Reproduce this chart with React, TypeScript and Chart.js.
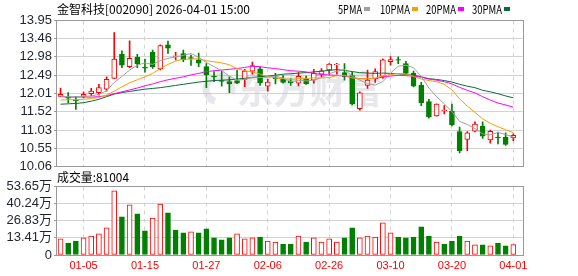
import React, { useEffect, useRef } from "react";
import { Chart, registerables } from "chart.js";

Chart.register(...registerables);

// ---------- data ----------
const dates = [
  "12-29", "12-30", "12-31", "01-05", "01-06", "01-07", "01-08", "01-09", "01-12", "01-13",
  "01-14", "01-15", "01-16", "01-19", "01-20", "01-21", "01-22", "01-23", "01-26", "01-27",
  "01-28", "01-29", "01-30", "02-02", "02-03", "02-04", "02-05", "02-06", "02-09", "02-10",
  "02-11", "02-12", "02-13", "02-24", "02-25", "02-26", "02-27", "03-02", "03-03", "03-04",
  "03-05", "03-06", "03-09", "03-10", "03-11", "03-12", "03-13", "03-16", "03-17", "03-18",
  "03-19", "03-20", "03-23", "03-24", "03-25", "03-26", "03-27", "03-30", "03-31", "04-01",
];

const opens = [
  11.93, 11.9, 11.83, 11.93, 12.0, 12.03, 12.12, 12.41, 13.05, 12.72,
  12.97, 12.7, 13.1, 12.66, 13.3, 12.99, 13.07, 12.96, 12.9, 12.72,
  12.47, 12.35, 12.32, 12.35, 12.38, 12.6, 12.66, 12.2, 12.42, 12.38,
  12.33, 12.28, 12.38, 12.36, 12.52, 12.63, 12.77, 12.56, 12.48, 11.6,
  12.22, 12.4, 12.45, 12.85, 12.91, 12.8, 12.55, 12.23, 11.79, 11.41,
  11.55, 11.53, 10.99, 10.78, 11.0, 11.14, 10.77, 10.84, 10.84, 10.82,
];
const highs = [
  12.15, 12.03, 11.93, 12.05, 12.14, 12.25, 12.45, 13.63, 13.14, 13.41,
  13.05, 12.92, 13.16, 13.3, 13.4, 13.1, 13.16, 13.03, 13.08, 12.8,
  12.59, 12.6, 12.45, 12.63, 12.65, 12.84, 12.71, 12.38, 12.54, 12.48,
  12.4, 12.56, 12.47, 12.65, 12.67, 12.8, 12.81, 12.8, 12.57, 12.05,
  12.63, 12.66, 12.93, 12.99, 12.98, 12.86, 12.6, 12.3, 11.85, 11.73,
  11.68, 11.72, 11.11, 10.99, 11.25, 11.25, 11.03, 10.98, 10.96, 10.93,
];
const lows = [
  11.92, 11.76, 11.58, 11.89, 11.95, 11.96, 12.07, 12.4, 12.69, 12.69,
  12.69, 12.57, 12.67, 12.63, 13.07, 12.9, 12.85, 12.75, 12.72, 12.16,
  12.32, 12.2, 12.03, 12.27, 12.19, 12.52, 12.22, 12.07, 12.26, 12.28,
  12.22, 12.21, 12.25, 12.28, 12.45, 12.5, 12.52, 12.36, 11.7, 11.56,
  12.14, 12.3, 12.41, 12.76, 12.8, 12.52, 12.18, 11.68, 11.35, 11.4,
  11.46, 11.14, 10.42, 10.48, 10.98, 10.81, 10.68, 10.66, 10.62, 10.75,
];
const closes = [
  11.98, 11.88, 11.81, 11.98, 12.07, 12.16, 12.38, 12.92, 12.76, 12.94,
  12.79, 12.68, 12.72, 13.28, 13.21, 13.01, 12.9, 12.94, 12.81, 12.5,
  12.45, 12.33, 12.26, 12.28, 12.6, 12.75, 12.29, 12.31, 12.4, 12.3,
  12.29, 12.46, 12.26, 12.54, 12.61, 12.79, 12.79, 12.45, 11.73, 12.02,
  12.36, 12.59, 12.9, 12.91, 12.89, 12.54, 12.2, 11.76, 11.38, 11.72,
  11.57, 11.17, 10.48, 10.96, 11.19, 10.87, 11.0, 10.82, 10.65, 10.89,
];
// volume in 万 (10k shares)
const volumes = [
  12.6, 9.4, 11.0, 13.4, 14.9, 16.5, 21.2, 50.3, 29.8, 39.3,
  32.2, 18.9, 29.0, 39.8, 33.0, 19.6, 17.3, 18.1, 17.3, 20.4,
  13.4, 11.8, 13.4, 16.5, 12.6, 13.4, 14.1, 11.0, 10.2, 8.6,
  8.6, 14.9, 10.2, 13.4, 10.2, 12.6, 10.2, 13.4, 21.2, 13.4,
  14.9, 14.1, 25.1, 17.3, 14.1, 13.4, 14.1, 22.0, 14.9, 10.2,
  8.6, 11.0, 14.9, 11.0, 7.9, 7.9, 7.1, 9.4, 7.1, 8.1,
];

const ma5 = [
  11.93, 11.92, 11.92, 11.93, 11.94, 11.98, 12.08, 12.3, 12.46, 12.63,
  12.76, 12.82, 12.78, 12.88, 12.94, 12.98, 13.02, 13.07, 12.97, 12.83,
  12.72, 12.61, 12.47, 12.36, 12.38, 12.44, 12.43, 12.44, 12.47, 12.41,
  12.32, 12.35, 12.34, 12.36, 12.43, 12.53, 12.6, 12.64, 12.47, 12.36,
  12.27, 12.23, 12.32, 12.55, 12.73, 12.76, 12.69, 12.46, 12.15, 11.92,
  11.73, 11.52, 11.26, 11.18, 11.07, 10.93, 10.9, 10.97, 10.91, 10.85,
];
const ma10 = [
  11.83, 11.84, 11.84, 11.85, 11.87, 11.9, 11.96, 12.07, 12.18, 12.29,
  12.37, 12.45, 12.54, 12.67, 12.78, 12.87, 12.92, 12.92, 12.93, 12.88,
  12.85, 12.82, 12.77, 12.67, 12.61, 12.58, 12.52, 12.46, 12.42, 12.4,
  12.38, 12.4, 12.4, 12.42, 12.42, 12.43, 12.48, 12.49, 12.42, 12.4,
  12.4, 12.41, 12.48, 12.51, 12.54, 12.52, 12.46, 12.39, 12.35, 12.32,
  12.25, 12.1, 11.86, 11.67, 11.5, 11.33, 11.21, 11.12, 11.04, 10.96,
];
const ma20 = [
  11.92, 11.91, 11.91, 11.91, 11.91, 11.92, 11.95, 12.0, 12.05, 12.1,
  12.15, 12.21, 12.26, 12.32, 12.37, 12.41, 12.45, 12.5, 12.54, 12.59,
  12.61, 12.63, 12.65, 12.67, 12.7, 12.73, 12.72, 12.69, 12.67, 12.64,
  12.61, 12.6, 12.58, 12.54, 12.51, 12.5, 12.49, 12.47, 12.43, 12.4,
  12.4, 12.41, 12.44, 12.47, 12.49, 12.48, 12.47, 12.44, 12.39, 12.36,
  12.32, 12.26, 12.17, 12.09, 12.02, 11.92, 11.83, 11.75, 11.7, 11.64,
];
const ma30 = [
  11.72, 11.73, 11.74, 11.76, 11.8, 11.85, 11.92, 11.99, 12.03, 12.06,
  12.09, 12.12, 12.14, 12.16, 12.19, 12.22, 12.25, 12.28, 12.31, 12.33,
  12.35, 12.36, 12.37, 12.39, 12.41, 12.43, 12.45, 12.47, 12.49, 12.52,
  12.53, 12.55, 12.56, 12.58, 12.6, 12.62, 12.64, 12.62, 12.59, 12.56,
  12.55, 12.54, 12.55, 12.54, 12.53, 12.51, 12.49, 12.45, 12.4, 12.38,
  12.35, 12.31, 12.25, 12.2, 12.16, 12.09, 12.05, 12.0, 11.94, 11.89,
];

const priceTickLabels = ["10.06", "10.55", "11.03", "11.52", "12.01", "12.49", "12.98", "13.46", "13.95"];
const volumeTickValues = [0, 13.41, 26.83, 40.24, 53.65];
const volumeTickLabels = ["0", "13.41万", "26.83万", "40.24万", "53.65万"];
const dateTickLabels = ["01-05", "01-15", "01-27", "02-06", "02-26", "03-10", "03-20", "04-01"];
const maNames = ["5PMA", "10PMA", "20PMA", "30PMA"];
const titleText = "金智科技[002090] 2026-04-01 15:00";
const volumeTitle = "成交量:81004";
const watermark = "东方财富";

// ---------- styles ----------
const RED = "#ff0000";
const GREEN = "#008000";
const MA_COLORS = ["#a0a0a0", "#f5a000", "#ff00ff", "#0b6b37"];
const GRID = "#d2d2d2";
const FRAME = "#999999";
const LABEL = "#1e2233";
const NUM_FONT = "'Liberation Sans', 'Noto Sans CJK SC', sans-serif";
const CJK_FONT = "'Noto Sans CJK SC', sans-serif";

export default function App() {
  const priceRef = useRef<HTMLCanvasElement>(null);
  const volRef = useRef<HTMLCanvasElement>(null);

  useEffect(() => {
    const W = 578;
    const H = 276;
    const plotRight = 522.7;
    const xMin = -0.46;
    const xMax = 60.22;
    const tickIdx = dateTickLabels.map((d) => dates.indexOf(d));
    const priceTickValues = priceTickLabels.map((s) => parseFloat(s));
    const up = closes.map((c, i) => c >= opens[i]);
    const volUp = closes.map((c, i) => (i === 0 ? c >= opens[i] : c >= closes[i - 1]));

    const frame = (chart: any) => {
      const { ctx, chartArea: a } = chart;
      ctx.save();
      ctx.strokeStyle = FRAME;
      ctx.lineWidth = 1;
      const l = Math.round(a.left) - 0.5;
      const t = Math.floor(a.top) + 0.5;
      const r = Math.round(a.right) + 0.5;
      const b = Math.floor(a.bottom) + 0.5;
      ctx.strokeRect(l, t, r - l, b - t);
      ctx.restore();
    };

    const pricePlugin = {
      id: "priceDeco",
      beforeDatasetsDraw(chart: any) {
        const ctx = chart.ctx;
        ctx.save();
        ctx.fillStyle = "rgba(185,185,200,0.35)";
        ctx.strokeStyle = "rgba(185,185,200,0.35)";
        ctx.font = `bold 38px ${CJK_FONT}`;
        ctx.textBaseline = "middle";
        ctx.textAlign = "left";
        ctx.fillText(watermark, 237, 89, 145);
        ctx.lineWidth = 7;
        ctx.beginPath();
        ctx.arc(219, 89, 13, Math.PI * 0.6, Math.PI * 2.1);
        ctx.stroke();
        ctx.restore();
      },
      afterDraw(chart: any) {
        frame(chart);
        const ctx = chart.ctx;
        ctx.save();
        ctx.fillStyle = "#000";
        ctx.textBaseline = "middle";
        ctx.textAlign = "left";
        ctx.font = `12px ${CJK_FONT}`;
        ctx.fillText(titleText, 57, 9.5, 196);
        const lx = [338, 380, 426, 472];
        maNames.forEach((n, i) => {
          const w = n.length * 6;
          ctx.fillStyle = "#000";
          ctx.fillText(n, lx[i], 9.5, w);
          ctx.fillStyle = MA_COLORS[i];
          ctx.fillRect(lx[i] + w + 2, 7, 6, 4);
        });
        ctx.restore();
      },
    };

    const volPlugin = {
      id: "volDeco",
      afterDraw(chart: any) {
        frame(chart);
        const ctx = chart.ctx;
        ctx.save();
        ctx.fillStyle = "#000";
        ctx.textBaseline = "middle";
        ctx.textAlign = "left";
        ctx.font = `12px ${CJK_FONT}`;
        ctx.fillText(volumeTitle, 57, 177.5, 72);
        ctx.restore();
      },
    };

    const xScale = (showLabels: boolean, height: number) => ({
      type: "linear" as const,
      min: xMin,
      max: xMax,
      offset: false,
      afterBuildTicks: (s: any) => {
        s.ticks = tickIdx.map((v) => ({ value: v }));
      },
      afterFit: (s: any) => {
        s.height = height;
      },
      ticks: {
        display: showLabels,
        autoSkip: false,
        maxRotation: 0,
        padding: 4,
        color: RED,
        font: { family: NUM_FONT, size: 11 },
        callback: (_v: any, idx: number) => dateTickLabels[idx],
      },
      grid: { color: GRID, drawTicks: false, offset: false, lineWidth: 1 },
      border: { display: false, dash: [4, 4] },
    });

    const yCommon = {
      position: "left" as const,
      afterFit: (s: any) => {
        s.width = 57;
      },
      grid: { color: GRID, tickLength: 3, tickColor: FRAME, lineWidth: 1 },
      border: { display: false },
    };

    const priceChart = new Chart(priceRef.current as HTMLCanvasElement, {
      type: "bar",
      data: {
        datasets: [
          {
            type: "bar",
            data: lows.map((l, i) => ({ x: i, y: [l, highs[i]] })) as any,
            backgroundColor: up.map((u) => (u ? RED : GREEN)),
            borderWidth: 0,
            barThickness: 1,
            grouped: false,
            order: 3,
          },
          {
            type: "bar",
            data: opens.map((o, i) => ({ x: i, y: [o, closes[i]] })) as any,
            backgroundColor: up.map((u) => (u ? "#ffffff" : GREEN)),
            borderColor: up.map((u) => (u ? RED : GREEN)),
            borderWidth: 1,
            borderSkipped: false,
            barThickness: 5,
            grouped: false,
            order: 2,
          },
          ...[ma5, ma10, ma20, ma30].map((arr, k) => ({
            type: "line" as const,
            data: arr.map((v, i) => ({ x: i, y: v })),
            borderColor: MA_COLORS[k],
            borderWidth: 1,
            pointRadius: 0,
            tension: 0,
            fill: false,
            order: 1,
          })),
        ] as any,
      },
      options: {
        responsive: false,
        devicePixelRatio: 1,
        animation: false,
        events: [],
        layout: { padding: { left: 0, right: W - plotRight, top: 20.5, bottom: H - 166.5 } },
        plugins: { legend: { display: false }, tooltip: { enabled: false }, title: { display: false } },
        scales: {
          x: xScale(false, 0) as any,
          y: {
            ...yCommon,
            type: "linear",
            min: 10.06,
            max: 13.95,
            afterBuildTicks: (s: any) => {
              s.ticks = priceTickValues.map((v) => ({ value: v }));
            },
            ticks: {
              autoSkip: false,
              padding: 2,
              color: LABEL,
              font: { family: NUM_FONT, size: 13 },
              callback: (_v: any, idx: number) => priceTickLabels[idx],
            },
          } as any,
        },
      },
      plugins: [pricePlugin],
    });

    const volChart = new Chart(volRef.current as HTMLCanvasElement, {
      type: "bar",
      data: {
        datasets: [
          {
            type: "bar",
            data: volumes.map((v, i) => ({ x: i, y: v })),
            backgroundColor: volUp.map((u) => (u ? "#ffffff" : GREEN)),
            borderColor: volUp.map((u) => (u ? RED : GREEN)),
            borderWidth: 1,
            borderSkipped: false,
            barThickness: 5,
            grouped: false,
          },
        ] as any,
      },
      options: {
        responsive: false,
        devicePixelRatio: 1,
        animation: false,
        events: [],
        layout: { padding: { left: 0, right: W - plotRight, top: 186.5, bottom: 0 } },
        plugins: { legend: { display: false }, tooltip: { enabled: false }, title: { display: false } },
        scales: {
          x: xScale(true, H - 255) as any,
          y: {
            ...yCommon,
            type: "linear",
            min: 0,
            max: 53.65,
            afterBuildTicks: (s: any) => {
              s.ticks = volumeTickValues.map((v) => ({ value: v }));
            },
            ticks: {
              autoSkip: false,
              padding: 2,
              color: LABEL,
              font: { family: NUM_FONT, size: 13 },
              callback: (_v: any, idx: number) => volumeTickLabels[idx],
            },
          } as any,
        },
      },
      plugins: [volPlugin],
    });

    return () => {
      priceChart.destroy();
      volChart.destroy();
    };
  }, []);

  const cs: React.CSSProperties = { position: "absolute", left: 0, top: 0, width: 578, height: 276 };
  return (
    <div style={{ position: "fixed", left: 0, top: 0, width: 578, height: 276, background: "#fff" }}>
      <canvas ref={priceRef} width={578} height={276} style={cs} />
      <canvas ref={volRef} width={578} height={276} style={cs} />
    </div>
  );
}
